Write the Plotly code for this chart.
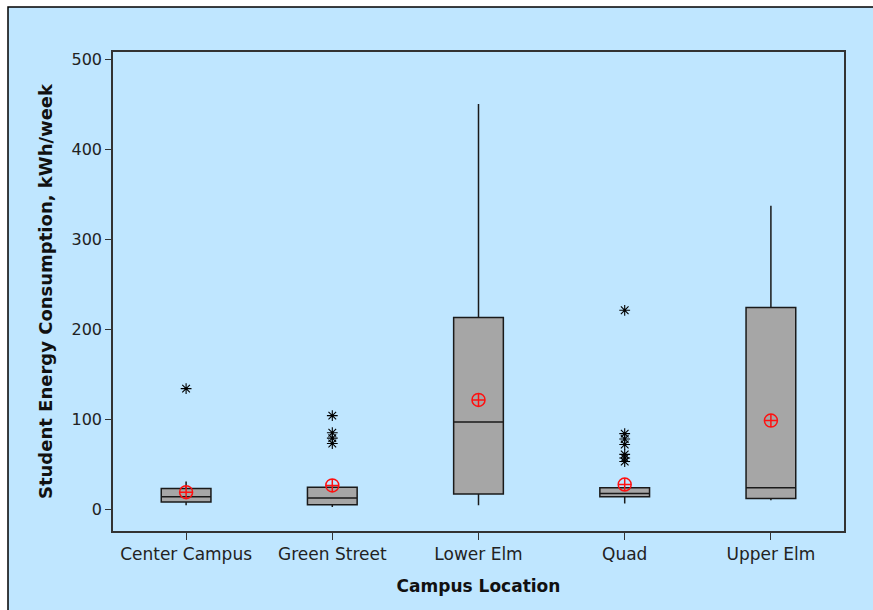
import plotly.graph_objects as go

# Campus locations and box-plot summaries of weekly student energy use (kWh/week)
locations = ["Center Campus", "Green Street", "Lower Elm", "Quad", "Upper Elm"]
q1_vals = [8, 5, 17, 14, 12]
median_vals = [14, 12.5, 97, 17.5, 24]
q3_vals = [23, 24.5, 213, 24, 224]
lower_whisker = [4.5, 2.5, 4.5, 6.5, 10]
upper_whisker = [31, 24.5, 450, 24, 337]
mean_vals = [19, 26.5, 121.5, 27.5, 98.5]

# Outliers per location
outlier_locations = (["Center Campus"]
                     + ["Green Street"] * 4
                     + ["Quad"] * 7)
outlier_values = ([134]
                  + [104, 85, 79, 73]
                  + [221, 84, 78, 72, 61, 57, 53])

W, H = 873, 610
PL, PR, PT, PB = 113, 844, 52, 531  # plot area in pixels


def px_x(p):
    return (p - PL) / (PR - PL)


def px_y(p):
    return (PB - p) / (PB - PT)


fig = go.Figure()

fig.add_trace(go.Box(
    x=locations,
    q1=q1_vals,
    median=median_vals,
    q3=q3_vals,
    lowerfence=lower_whisker,
    upperfence=upper_whisker,
    boxpoints=False,
    width=0.34,
    whiskerwidth=0,
    fillcolor="#A6A6A6",
    line=dict(color="#1a1a1a", width=1.5),
    showlegend=False,
    hoverinfo="skip",
))

fig.add_trace(go.Scatter(
    x=outlier_locations,
    y=outlier_values,
    mode="markers",
    marker=dict(symbol="asterisk-open", size=9, color="black",
                line=dict(color="black", width=1.1)),
    showlegend=False,
))

fig.add_trace(go.Scatter(
    x=locations,
    y=mean_vals,
    mode="markers",
    marker=dict(symbol="circle-cross-open", size=13, color="#FF1010",
                line=dict(color="#FF1010", width=1.5)),
    showlegend=False,
))

font_family = "DejaVu Sans"

fig.update_layout(
    width=W, height=H,
    margin=dict(l=PL, r=W - PR, t=PT, b=H - PB, pad=0),
    paper_bgcolor="white",
    plot_bgcolor="white",
    font=dict(family=font_family, size=15, color="#222"),
    shapes=[dict(
        type="rect", xref="paper", yref="paper", layer="below",
        x0=px_x(8), x1=px_x(W + 20), y0=px_y(H + 20), y1=px_y(7),
        fillcolor="#BFE6FF", line=dict(color="black", width=1.5),
    )],
)

fig.update_xaxes(
    type="category",
    categoryorder="array", categoryarray=locations,
    range=[-0.5, 4.5],
    showgrid=False, zeroline=False,
    showline=True, linecolor="#333", linewidth=1.5, mirror=True,
    ticks="outside", ticklen=7, tickcolor="#333", tickwidth=1.3,
    tickfont=dict(size=17, family=font_family, color="#222"),
    title=dict(text="<b>Campus Location</b>", standoff=17,
               font=dict(size=17, family=font_family, color="#111")),
)

fig.update_yaxes(
    range=[-24.1, 507.8],
    tickvals=[0, 100, 200, 300, 400, 500],
    showgrid=False, zeroline=False,
    showline=True, linecolor="#333", linewidth=1.5, mirror=True,
    ticks="outside", ticklen=6, tickcolor="#333", tickwidth=1.3,
    tickfont=dict(size=16, family=font_family, color="#222"),
    title=dict(text="<b>Student Energy Consumption, kWh/week</b>", standoff=14,
               font=dict(size=18, family=font_family, color="#111")),
)

fig.write_html("out.html")
